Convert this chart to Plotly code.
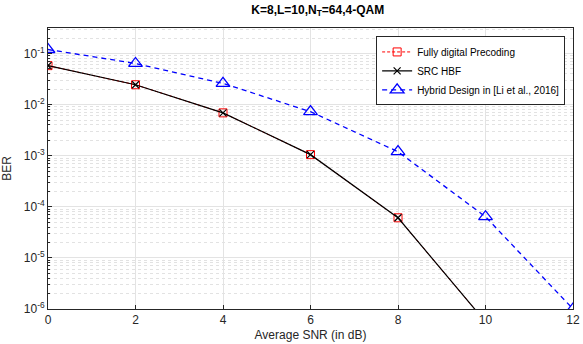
import plotly.graph_objects as go

snr = [0, 2, 4, 6, 8, 10]
ber_fd = [0.058, 0.0245, 0.0069, 0.00105, 6.1e-5, 5.6e-7]
ber_src = [0.058, 0.0245, 0.0069, 0.00105, 6.1e-5, 5.6e-7]
snr_h = [0, 2, 4, 6, 8, 10, 12]
ber_h = [0.12, 0.064, 0.026, 0.0073, 0.0012, 6.4e-5, 1.0e-6]

ytick_vals = [1e-6, 1e-5, 1e-4, 1e-3, 1e-2, 1e-1]
ytick_text = ["10<sup>-6</sup>", "10<sup>-5</sup>", "10<sup>-4</sup>", "10<sup>-3</sup>", "10<sup>-2</sup>", "10<sup>-1</sup>"]
xtick_vals = [0, 2, 4, 6, 8, 10, 12]

fig = go.Figure()
fig.add_trace(go.Scatter(x=snr, y=ber_fd, name="Fully digital Precoding", mode="lines+markers",
                         line=dict(color="red", dash="3px,2px", width=1),
                         marker=dict(symbol="square-open", size=8, color="red", line=dict(width=1))))
fig.add_trace(go.Scatter(x=snr, y=ber_src, name="SRC HBF", mode="lines+markers",
                         line=dict(color="black", width=1.2),
                         marker=dict(symbol="x-thin", size=7, color="black", line=dict(width=1.2, color="black"))))
fig.add_trace(go.Scatter(x=snr_h, y=ber_h, name="Hybrid Design in [Li et al., 2016]", mode="lines+markers",
                         line=dict(color="blue", dash="5px,4px", width=1.3),
                         marker=dict(symbol="triangle-up-open", size=12, color="blue", line=dict(width=1.3))))

fig.update_layout(
    width=583, height=344,
    margin=dict(l=48, r=10, t=28, b=35),
    paper_bgcolor="white", plot_bgcolor="white",
    font=dict(family="Liberation Sans, Arial, sans-serif", size=12, color="#262626"),
    title=dict(text="<b>K=8,L=10,N<sub>T</sub>=64,4-QAM</b>", x=0.545, xanchor="center", y=0.985, yanchor="top",
               font=dict(size=12, color="black")),
    showlegend=True,
    legend=dict(x=0.985, y=0.97, xanchor="right", yanchor="top", bgcolor="white",
                bordercolor="#262626", borderwidth=1, font=dict(size=10, color="black"),
                tracegroupgap=0, itemwidth=30),
)
fig.update_xaxes(range=[0, 12], tickvals=xtick_vals, showline=True, linecolor="#262626", mirror=True,
                 ticks="inside", ticklen=4, tickcolor="#262626", automargin=False,
                 ticklabeloverflow="allow",
                 showgrid=True, gridcolor="#e3e3e3", zeroline=False,
                 title=dict(text="Average SNR (in dB)", standoff=4, font=dict(size=12)))
fig.update_yaxes(type="log", range=[-6, -0.5], tickvals=ytick_vals, ticktext=ytick_text,
                 showline=True, linecolor="#262626", mirror=True, automargin=False,
                 ticks="inside", ticklen=4, tickcolor="#262626",
                 showgrid=True, gridcolor="#e3e3e3", zeroline=False,
                 minor=dict(ticks="inside", ticklen=2, tickcolor="#262626", showgrid=True,
                            gridcolor="#e2e2e2", griddash="dot", dtick="D1"),
                 title=dict(text="BER", standoff=10, font=dict(size=12)))

fig.write_html("out.html", config={"displayModeBar": False},
               post_script="document.body.style.margin='0';")
